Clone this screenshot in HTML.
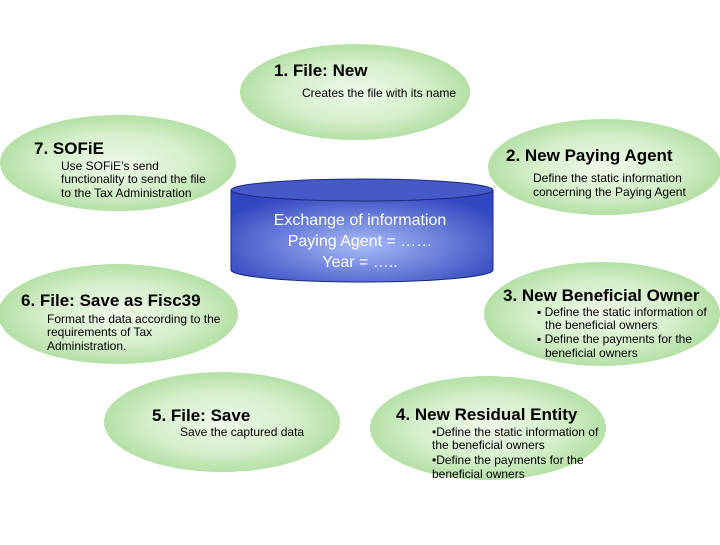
<!DOCTYPE html>
<html><head><style>body{margin:0;background:#fff;width:720px;height:540px;overflow:hidden}</style></head><body>
<svg width="720" height="540" xmlns="http://www.w3.org/2000/svg" font-family="Liberation Sans, Arial, sans-serif">
<defs>
<radialGradient id="g" cx="50%" cy="50%" r="50%"><stop offset="0" stop-color="#eef8ea"/><stop offset="0.6" stop-color="#d6efcc"/><stop offset="1" stop-color="#b5e0a6"/></radialGradient>
<radialGradient id="b" cx="50%" cy="60%" r="60%"><stop offset="0" stop-color="#a8bbf8"/><stop offset="1" stop-color="#3348c0"/></radialGradient>
</defs>
<g fill="url(#g)">
<ellipse cx="355" cy="92" rx="115" ry="48"/>
<ellipse cx="605" cy="167" rx="117" ry="48"/>
<ellipse cx="118" cy="163" rx="118" ry="48"/>
<ellipse cx="118" cy="314" rx="120" ry="50"/>
<ellipse cx="602" cy="314" rx="118" ry="52"/>
<ellipse cx="222" cy="422" rx="118" ry="50"/>
<ellipse cx="488" cy="428" rx="118" ry="52"/>
</g>
<path d="M231 190 L231 270 A131 12 0 0 0 493 270 L493 190" fill="url(#b)" stroke="#1a2a7a" stroke-width="1"/>
<ellipse cx="362" cy="190" rx="131" ry="11" fill="#4659c8" stroke="#1a2a7a"/>
<g fill="#fff" font-size="16" text-anchor="middle">
<text x="360" y="225">Exchange of information</text>
<text x="360" y="246">Paying Agent = ……</text>
<text x="360" y="267">Year = …..</text>
</g>
<g fill="#000" font-size="17" font-weight="bold">
<text x="274" y="76">1.  File: New</text>
<text x="506" y="161">2.  New Paying Agent</text>
<text x="34" y="154">7.  SOFiE</text>
<text x="21" y="306">6.  File: Save as Fisc39</text>
<text x="503" y="301">3. New Beneficial Owner</text>
<text x="152" y="421">5.  File: Save</text>
<text x="396" y="420">4. New Residual Entity</text>
</g>
<g fill="#000" font-size="12">
<text x="302" y="97">Creates the file with its name</text>
<text x="533" y="182">Define the static information</text>
<text x="533" y="196">concerning the Paying Agent</text>
<text x="61" y="170">Use SOFiE’s send</text>
<text x="61" y="183">functionality to send the file</text>
<text x="61" y="197">to the Tax Administration</text>
<text x="47" y="323">Format the data according to the</text>
<text x="47" y="336">requirements of Tax</text>
<text x="47" y="350">Administration.</text>
<text x="537" y="316">▪ Define the static information of</text>
<text x="545" y="329">the beneficial owners</text>
<text x="537" y="343">▪ Define the payments for the</text>
<text x="545" y="357">beneficial owners</text>
<text x="180" y="436">Save the captured data</text>
<text x="432" y="436">•Define the static information of</text>
<text x="432" y="449">the beneficial owners</text>
<text x="432" y="464">•Define the payments for the</text>
<text x="432" y="478">beneficial owners</text>
</g>
</svg>
</body></html>
